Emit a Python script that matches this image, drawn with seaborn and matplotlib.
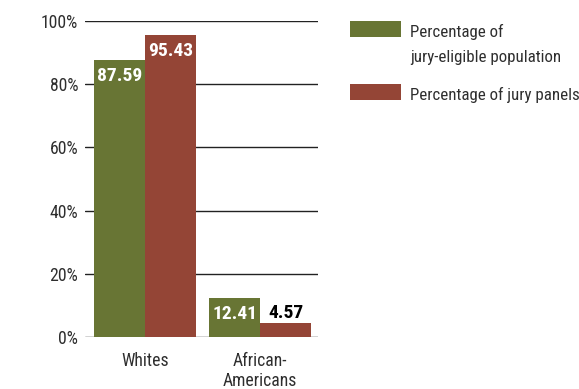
import matplotlib
matplotlib.use("Agg")
import matplotlib.pyplot as plt
from matplotlib.patches import Rectangle
import pandas as pd
import seaborn as sns

groups = ["Whites", "African-\nAmericans"]
series = ["Percentage of\njury-eligible population", "Percentage of jury panels"]
eligible = [87.59, 12.41]
panels = [95.43, 4.57]
yticks = [0, 20, 40, 60, 80, 100]

df = pd.DataFrame({
    "group": groups * 2,
    "series": [series[0]] * 2 + [series[1]] * 2,
    "value": eligible + panels,
})

sns.set_theme(style="white")
plt.rcParams["font.family"] = ["Roboto Condensed", "DejaVu Sans"]

green = "#687534"
red = "#944536"
text_col = "#2e2e2e"

W, H = 579, 389
fig = plt.figure(figsize=(W / 100, H / 100), dpi=100)
ax = fig.add_axes([85 / W, 1 - 337 / H, 233 / W, 316 / H])

sns.barplot(data=df, x="group", y="value", hue="series", palette=[green, red],
            width=0.887, gap=0, saturation=1, dodge=True, ax=ax, legend=False,
            edgecolor="none", linewidth=0)

ax.set_ylim(0, 100)
ax.set_xlim(-0.522, 1.504)
ax.set_yticks(yticks)
ax.set_yticklabels([f"{t}%" for t in yticks], fontsize=12.7, color=text_col)
ax.tick_params(axis="x", length=0, pad=11, labelsize=12.7, labelcolor=text_col)
ax.tick_params(axis="y", length=0, pad=5)
for lbl in ax.get_xticklabels():
    lbl.set_linespacing(1.1)
ax.set_xlabel("")
ax.set_ylabel("")
for s in ax.spines.values():
    s.set_visible(False)
ax.yaxis.grid(True, color="#222222", linewidth=1.0)
ax.set_axisbelow(True)

# value labels: white inside the top of tall bars, black above short ones
for cont in ax.containers:
    for bar, val in zip(cont, cont.datavalues):
        x = bar.get_x() + bar.get_width() / 2
        h = bar.get_height()
        if h > 8:
            ax.annotate(f"{val:.2f}", (x, h), xytext=(0, -5), textcoords="offset points",
                        ha="center", va="top", color="white", fontsize=14,
                        fontweight="bold")
        else:
            ax.annotate(f"{val:.2f}", (x, h), xytext=(0, 0.5), textcoords="offset points",
                        ha="center", va="bottom", color="black", fontsize=14,
                        fontweight="bold")

# legend: colour swatches with labels to the right
swatch_tops = [21, 84]
first_baselines = [37, 100]
for col, top, base, label in zip([green, red], swatch_tops, first_baselines, series):
    fig.patches.append(Rectangle((350 / W, 1 - (top + 16) / H), 51 / W, 16 / H,
                                 transform=fig.transFigure, facecolor=col,
                                 edgecolor="none"))
    lines = label.split("\n")
    for i, line in enumerate(lines):
        fig.text(410 / W, 1 - (base + 25 * i) / H, line, ha="left", va="baseline",
                 fontsize=12.2, color=text_col)

fig.savefig("out.png", dpi=100)
